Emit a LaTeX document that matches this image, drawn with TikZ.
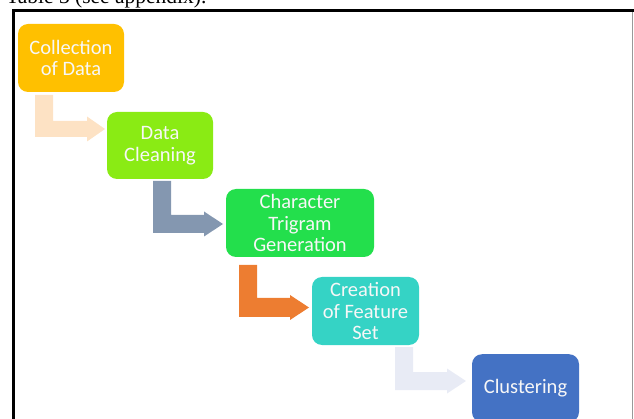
\documentclass[tikz,border=0pt]{standalone}
\usepackage{fontspec}
\setmainfont{Carlito}
\newfontfamily\capfont{Liberation Serif}
\definecolor{cA}{HTML}{FFC000}
\definecolor{cB}{HTML}{8AEB14}
\definecolor{cC}{HTML}{23DF4C}
\definecolor{cD}{HTML}{35D3C5}
\definecolor{cE}{HTML}{4472C4}
\definecolor{aA}{HTML}{FDE2C4}
\definecolor{aB}{HTML}{8497B0}
\definecolor{aC}{HTML}{ED7D31}
\definecolor{aD}{HTML}{E8EBF5}
\definecolor{txt}{HTML}{F7F7F7}
\tikzset{
  stepbox/.style={rounded corners=10pt, inner sep=0pt, align=center,
    text=txt, font=\fontsize{20.5}{21.5}\selectfont},
}
% bent arrow: #1 colour, #2 left x, #3 top y, #4 shaft top y, #5 shaft bottom y, #6 head base x, #7 tip x, #8 head half height
\newcommand\bentarr[8]{%
  \fill[#1] (#2,#3) -- ({#2+18},#3) -- ({#2+18},#4) -- (#6,#4)
    -- (#6,{(#4+#5)/2-#8}) -- (#7,{(#4+#5)/2}) -- (#6,{(#4+#5)/2+#8})
    -- (#6,#5) -- (#2,#5) -- cycle;}
\begin{document}
\begin{tikzpicture}[x=1pt,y=-1pt]
\useasboundingbox (0,0) rectangle (634,419);
\begin{scope}
\clip (0,0) rectangle (634,419);
% caption text (cut off at top)
\node[anchor=base west, inner sep=0pt, font=\capfont\fontsize{21.5}{22}\selectfont] (cap) at (6,3.5) {Table 3 (see appendix).};
% frame
\draw[line width=0.8pt, black!40] (632,11) -- (632,425);
\draw[line width=3pt] (13,430) -- (13,10.5) -- (640,10.5);
% boxes
\node[stepbox, fill=cA, minimum width=106pt, minimum height=68pt] (b1) at (71,58) {Collection\\of Data};
\node[stepbox, fill=cB, minimum width=106pt, minimum height=67pt] (b2) at (160,145.5) {Data\\Cleaning};
\node[stepbox, fill=cC, minimum width=148pt, minimum height=68pt] (b3) at (300,223) {Character\\Trigram\\Generation};
\node[stepbox, fill=cD, minimum width=107pt, minimum height=68pt] (b4) at (365.5,311) {Creation\\of Feature\\Set};
\node[stepbox, fill=cE, minimum width=107pt, minimum height=68pt, anchor=north] (b5) at (525.5,354) {Clustering};
% arrows
\bentarr{aA}{35}{95}{121}{137}{87}{105}{12.5}
\bentarr{aB}{153}{181}{215}{233}{204}{223}{12.5}
\bentarr{aC}{239}{265}{298}{317}{290}{309}{12.5}
\bentarr{aD}{395}{347}{372}{390}{447}{466}{12.5}
\end{scope}
\end{tikzpicture}
\end{document}
